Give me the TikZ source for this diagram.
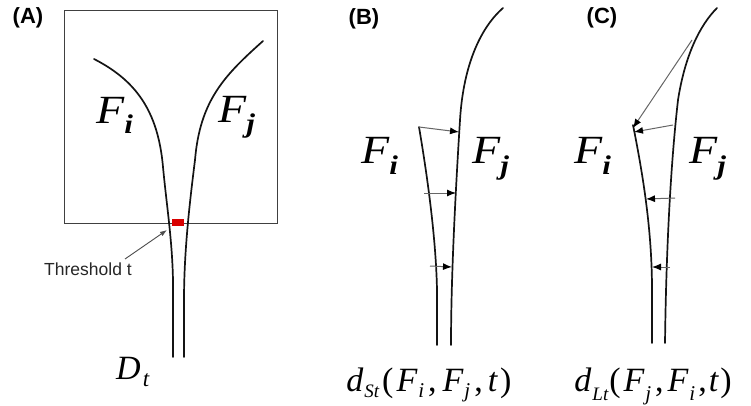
\documentclass[tikz,border=0pt]{standalone}
\usepackage{graphicx}
\usepackage{fontspec}
\setmainfont{Liberation Serif}
\newfontfamily\lsans{Liberation Sans}
\usetikzlibrary{arrows.meta}
\newcommand{\Flab}[1]{\scalebox{1.15}[1]{\fontsize{40}{40}\selectfont\itshape F\kern0pt\raisebox{-10pt}{\fontsize{27}{27}\selectfont\bfseries #1}}}
\newcommand{\Fsub}[2]{F\kern1pt\raisebox{-#2}{\fontsize{21}{21}\selectfont #1}}
\tikzset{
  fiber/.style={line width=1.7pt, draw=black!92, line cap=round},
  dist/.style={draw=black!60, line width=1pt, -{Latex[length=9pt,width=7pt,color=black]}},
  panel/.style={font=\lsans\bfseries\fontsize{22}{22}\selectfont, inner sep=0pt},
  flab/.style={inner sep=0pt, anchor=base west},
  formula/.style={inner sep=0pt, anchor=base, font=\fontsize{34}{34}\selectfont}
}
\begin{document}
\begin{tikzpicture}[x=1pt,y=-1pt]
\useasboundingbox (0,0) rectangle (751,406);
% ---------- Panel A ----------
\node[panel] (la) at (28,18) {(A)};
\draw[draw=black!75, line width=0.9pt] (64,10) rectangle (277,223);
\draw[fiber] (94,59) .. controls (135,80) and (158,110) .. (163,167)
  .. controls (167,210) and (174,250) .. (173,300) -- (173,357);
\draw[fiber] (263,41) .. controls (225,75) and (200,100) .. (195,160)
  .. controls (190,200) and (184,250) .. (184,300) -- (184,357);
\fill[red!85!black] (172,219) rectangle (184,226);
\node[inner sep=0pt, font=\lsans\fontsize{17.5}{17.5}\selectfont, text=black!85] (thr) at (88,269) {Threshold t};
\coordinate (thrtip) at (167,230);
\draw[draw=black!70, line width=0.9pt, -{Latex[length=7pt,width=5pt]}] (125,259) -- (thrtip);
\node[flab] (ai) at (96,124) {\Flab{i}};
\node[flab] (aj) at (218,123) {\Flab{j}};
\node[inner sep=0pt, anchor=base west] (dt) at (116,379) {\fontsize{34}{34}\selectfont\itshape D\kern2pt\raisebox{-7pt}{\fontsize{23}{23}\selectfont t}};
% ---------- Panel B ----------
\node[panel] (lb) at (364,19) {(B)};
\draw[fiber] (503,8) .. controls (478,30) and (463,70) .. (460,120)
  .. controls (455,200) and (451,280) .. (451,345);
\draw[fiber] (419,127) .. controls (428,180) and (436,240) .. (437,290) -- (437,345);
\coordinate (b1s) at (419,127); \coordinate (b1e) at (459,132);
\coordinate (b2s) at (424,193); \coordinate (b2e) at (456,193);
\coordinate (b3s) at (430,266); \coordinate (b3e) at (452,267);
\draw[dist] (b1s) -- (b1e);
\draw[dist] (b2s) -- (b2e);
\draw[dist] (b3s) -- (b3e);
\node[flab] (bi) at (361,164) {\Flab{i}};
\node[flab] (bj) at (472,164) {\Flab{j}};
\node[formula] (fb) at (429,391) {\itshape d\kern1pt\raisebox{-6pt}{\fontsize{19}{19}\selectfont St}\kern3pt{\upshape(}\kern3pt\Fsub{i}{6pt}\kern4pt{\upshape,}\kern6pt\Fsub{j}{6pt}\kern4pt{\upshape,}\kern5pt t\kern3pt{\upshape)}};
% ---------- Panel C ----------
\node[panel] (lc) at (602,18) {(C)};
\draw[fiber] (717,8) .. controls (700,25) and (685,55) .. (678,100)
  .. controls (670,170) and (666,260) .. (665,343);
\draw[fiber] (633,125) .. controls (643,175) and (652,230) .. (652,290) -- (652,343);
\coordinate (c1s) at (692,40);  \coordinate (c1e) at (633,128);
\coordinate (c2s) at (673,125); \coordinate (c2e) at (634,132);
\coordinate (c3s) at (675,198); \coordinate (c3e) at (646,199);
\coordinate (c4s) at (670,267); \coordinate (c4e) at (652,267);
\draw[dist] (c1s) -- (c1e);
\draw[dist] (c2s) -- (c2e);
\draw[dist] (c3s) -- (c3e);
\draw[dist] (c4s) -- (c4e);
\node[flab] (ci) at (574,164) {\Flab{i}};
\node[flab] (cj) at (689,164) {\Flab{j}};
\node[formula] (fc) at (653,391) {\itshape d\kern1pt\raisebox{-9pt}{\fontsize{19}{19}\selectfont Lt}\kern1pt{\upshape(}\kern3pt\Fsub{j}{9pt}\kern4pt{\upshape,}\kern4pt\Fsub{i}{9pt}\kern3pt{\upshape,}\kern2pt t\kern2pt{\upshape)}};
\end{tikzpicture}
\end{document}
